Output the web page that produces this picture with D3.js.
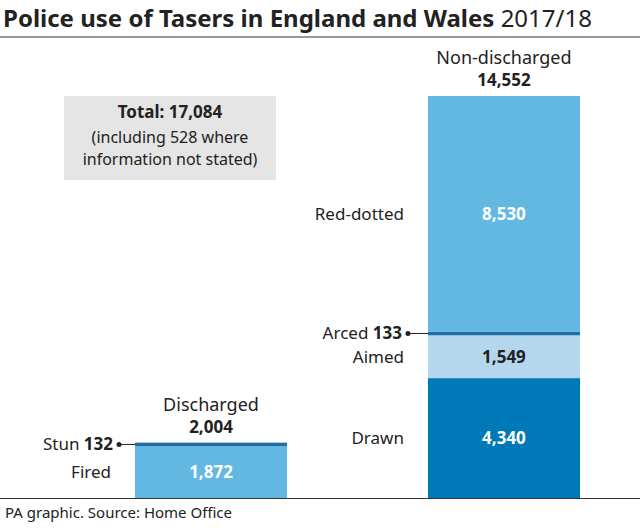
<!DOCTYPE html>
<html><head><meta charset="utf-8">
<script src="https://cdn.jsdelivr.net/npm/d3@7"></script>
<style>body{margin:0;background:#fff}svg{font-family:"Noto Sans",sans-serif}</style>
</head><body><svg width="640" height="528"></svg>
<script>
const discharged = [{label:"Fired", value:1872, color:"#62b8e0"},{label:"Stun", value:132, color:"#1f6ea8"}];
const nonDischarged = [{label:"Drawn", value:4340, color:"#0079b8"},{label:"Aimed", value:1549, color:"#b4d7ee"},{label:"Arced", value:133, color:"#1f6ea8"},{label:"Red-dotted", value:8530, color:"#62b8e0"}];
const totals = {discharged:"2,004", non:"14,552"};
const svg = d3.select("svg");
const fmt = d3.format(",");
const y = d3.scaleLinear().domain([0,14552]).range([498,96]);
const x = d3.scaleBand().domain(["Discharged","Non-discharged"]).range([135,580]).paddingInner(0.481).paddingOuter(0);

svg.append("text").attr("x",3).attr("y",27).attr("font-size",24).attr("font-weight",700).attr("fill","#222")
  .text("Police use of Tasers in England and Wales ").append("tspan").attr("font-weight",400).text("2017/18");
svg.append("line").attr("x1",0).attr("x2",640).attr("y1",37).attr("y2",37).attr("stroke","#333");
svg.append("line").attr("x1",0).attr("x2",640).attr("y1",498.5).attr("y2",498.5).attr("stroke","#333");
svg.append("text").attr("x",5).attr("y",518).attr("font-size",15).attr("fill","#222").text("PA graphic. Source: Home Office");

svg.append("rect").attr("x",64).attr("y",96).attr("width",212).attr("height",84).attr("fill","#e5e5e5");
svg.append("text").attr("x",170).attr("y",118).attr("text-anchor","middle").attr("font-size",17).attr("font-weight",700).attr("fill","#222").text("Total: 17,084");
svg.append("text").attr("x",170).attr("y",143).attr("text-anchor","middle").attr("font-size",16).attr("fill","#222").text("(including 528 where");
svg.append("text").attr("x",170).attr("y",165).attr("text-anchor","middle").attr("font-size",16).attr("fill","#222").text("information not stated)");

function stack(data,key,title,total,stub){
  const x0=x(key), w=x.bandwidth(); let acc=0;
  const g=svg.append("g");
  data.forEach(d=>{
    const y0=y(acc), y1=y(acc+d.value); acc+=d.value;
    g.append("rect").attr("x",x0).attr("y",y1).attr("width",w).attr("height",y0-y1).attr("fill",d.color);
    const mid=(y0+y1)/2;
    if(d.value>1000){
      g.append("text").attr("x",x0+w/2).attr("y",mid+6).attr("text-anchor","middle").attr("font-size",17).attr("font-weight",700)
        .attr("fill",d.label==="Aimed"?"#222":"#fff").text(fmt(d.value));
      g.append("text").attr("x",x0-24).attr("y",mid+6).attr("text-anchor","end").attr("font-size",17).attr("fill","#222").text(d.label);
    } else {
      g.append("line").attr("x1",x0-stub).attr("x2",x0).attr("y1",mid).attr("y2",mid).attr("stroke","#222");
      g.append("circle").attr("cx",x0-stub).attr("cy",mid).attr("r",2.5).attr("fill","#222");
      const t=g.append("text").attr("x",x0-stub-6).attr("y",mid+6).attr("text-anchor","end").attr("font-size",17).attr("fill","#222").text(d.label+" ");
      t.append("tspan").attr("font-weight",700).text(fmt(d.value));
    }
  });
  const top=y(acc);
  g.append("text").attr("x",x0+w/2).attr("y",top-32).attr("text-anchor","middle").attr("font-size",18).attr("fill","#222").text(title);
  g.append("text").attr("x",x0+w/2).attr("y",top-10).attr("text-anchor","middle").attr("font-size",17).attr("font-weight",700).attr("fill","#222").text(total);
}
stack(discharged,"Discharged","Discharged",totals.discharged,16);
stack(nonDischarged,"Non-discharged","Non-discharged",totals.non,20);
</script></body></html>
